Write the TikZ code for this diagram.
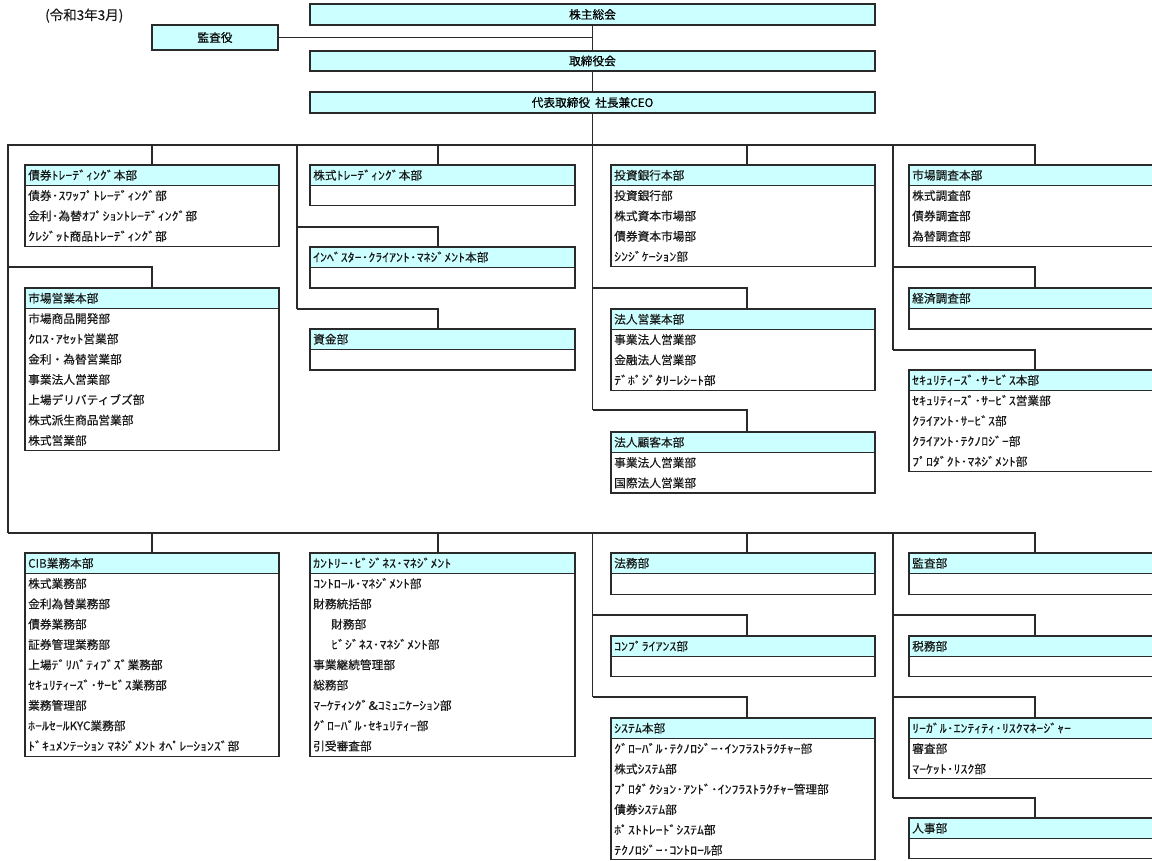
\documentclass[tikz,border=0pt]{standalone}
\usepackage{fontspec}
\usepackage{graphicx}
\setmainfont{Noto Sans CJK JP}[FakeBold=0.35]
% half-width katakana runs drawn a little wider, as in the reference
\newcommand\hk[1]{\scalebox{1.18}[1]{#1}}
\definecolor{hdrc}{HTML}{CCFFFF}
\definecolor{linec}{HTML}{2A2A2A}
\newcommand\fs{\fontsize{11.7}{14}\selectfont}
\tikzset{
  conn/.style={draw=linec, line width=1.4pt},
  hdr/.style={draw=linec, fill=hdrc, line width=1.3pt, inner sep=0pt, outer sep=0pt, anchor=north west, rectangle, font=\fs},
  bodyb/.style={draw=linec, fill=white, line width=1.3pt, inner sep=0pt, outer sep=0pt, anchor=north west, rectangle},
  lbl/.style={inner sep=0pt, anchor=base west, font=\fs, text=black!90},
}
% name, x, top, width, body height, header text
\newcommand\obox[6]{%
  \node[hdr, minimum width=#4pt, minimum height=20.5pt] (#1) at (#2,#3) {};
  \node[lbl] (#1-t) at ([xshift=3pt, yshift=-4.4pt]#1.west) {#6};
  \node[bodyb, minimum width=#4pt, minimum height=#5pt] (#1-b) at (#1.south west) {};
}
% name, items
\newcommand\items[2]{%
  \foreach \t [count=\i] in {#2} {
    \pgfmathsetmacro\yy{(\i-0.5)*20.3+4.4}
    \node[lbl] (#1-\i) at ([xshift=3pt, yshift=-\yy pt]#1-b.north west) {\t};
  }
}
\newcommand\drop[3]{%
  \coordinate (d-#3) at (#1,#2);
  \draw[conn] (d-#3) -- (d-#3 |- #3.north);
}
\newcommand\branch[4]{%
  \coordinate (b-#4) at (#1,#2);
  \coordinate (e-#4) at (#3,#2);
  \draw[conn] (b-#4) -- (e-#4) -- (e-#4 |- #4.north);
}
\begin{document}
\begin{tikzpicture}[x=1pt, y=-1pt]
\useasboundingbox (0,0) rectangle (1152,860);
\fill[white] (0,0) rectangle (1152,860);
\clip (0,0) rectangle (1152,860);

% top part
\node[lbl, font=\fontsize{13.5}{16}\selectfont] (date) at (45,20) {(令和3年3月)};
\node[hdr, minimum width=565pt, minimum height=21pt] (shu) at (310,4) {株主総会};
\node[hdr, minimum width=126pt, minimum height=25pt] (kansa) at (152,25) {監査役};
\node[hdr, minimum width=565pt, minimum height=20pt] (tori) at (310,51) {取締役会};
\node[hdr, minimum width=565pt, minimum height=21pt] (ceo) at (310,92) {代表取締役\hspace{5pt}社長兼CEO};

% upper boxes
\obox{bond}{25}{165}{254}{60.9}{債券\hk{ﾄﾚｰﾃﾞｨﾝｸﾞ}本部}
\items{bond}{債券\hk{･ｽﾜｯﾌﾟﾄﾚｰﾃﾞｨﾝｸﾞ}部, 金利\hk{･}為替\hk{ｵﾌﾟｼｮﾝﾄﾚｰﾃﾞｨﾝｸﾞ}部, \hk{ｸﾚｼﾞｯﾄ}商品\hk{ﾄﾚｰﾃﾞｨﾝｸﾞ}部}
\obox{meig}{25}{288}{254}{142.1}{市場営業本部}
\items{meig}{市場商品開発部, \hk{ｸﾛｽ･ｱｾｯﾄ}営業部, 金利・為替営業部, 事業法人営業部, 上場デリバティブズ部, 株式派生商品営業部, 株式営業部}

\obox{kabu}{310}{165}{265}{20}{株式\hk{ﾄﾚｰﾃﾞｨﾝｸﾞ}本部}
\obox{inv}{310}{247}{265}{20.5}{\hk{ｲﾝﾍﾞｽﾀｰ･ｸﾗｲｱﾝﾄ･ﾏﾈｼﾞﾒﾝﾄ}本部}
\obox{shikin}{310}{329}{265}{20.5}{資金部}

\obox{ib}{611}{165}{264}{81.2}{投資銀行本部}
\items{ib}{投資銀行部, 株式資本市場部, 債券資本市場部, \hk{ｼﾝｼﾞｹｰｼｮﾝ}部}
\obox{hoei}{611}{309}{264}{60.9}{法人営業本部}
\items{hoei}{事業法人営業部, 金融法人営業部, \hk{ﾃﾞﾎﾟｼﾞﾀﾘｰﾚｼｰﾄ}部}
\obox{hoko}{611}{432}{264}{40.6}{法人顧客本部}
\items{hoko}{事業法人営業部, 国際法人営業部}

\obox{mcho}{909}{165}{252}{60.9}{市場調査本部}
\items{mcho}{株式調査部, 債券調査部, 為替調査部}
\obox{keizai}{909}{288}{252}{20.5}{経済調査部}
\obox{sec}{909}{370}{252}{81.2}{\hk{ｾｷｭﾘﾃｨｰｽﾞ･ｻｰﾋﾞｽ}本部}
\items{sec}{\hk{ｾｷｭﾘﾃｨｰｽﾞ･ｻｰﾋﾞｽ}営業部, \hk{ｸﾗｲｱﾝﾄ･ｻｰﾋﾞｽ}部, \hk{ｸﾗｲｱﾝﾄ･ﾃｸﾉﾛｼﾞｰ}部, \hk{ﾌﾟﾛﾀﾞｸﾄ･ﾏﾈｼﾞﾒﾝﾄ}部}

% lower boxes
\obox{cib}{25}{553}{254}{182.7}{CIB業務本部}
\items{cib}{株式業務部, 金利為替業務部, 債券業務部, 証券管理業務部, 上場\hk{ﾃﾞﾘﾊﾞﾃｨﾌﾞｽﾞ}業務部, \hk{ｾｷｭﾘﾃｨｰｽﾞ･ｻｰﾋﾞｽ}業務部, 業務管理部, \hk{ﾎｰﾙｾｰﾙ}KYC業務部, \hk{ﾄﾞｷｭﾒﾝﾃｰｼｮﾝ ﾏﾈｼﾞﾒﾝﾄ ｵﾍﾟﾚｰｼｮﾝｽﾞ}部}
\obox{cbm}{310}{553}{265}{182.7}{\hk{ｶﾝﾄﾘｰ･ﾋﾞｼﾞﾈｽ･ﾏﾈｼﾞﾒﾝﾄ}}
\items{cbm}{\hk{ｺﾝﾄﾛｰﾙ･ﾏﾈｼﾞﾒﾝﾄ}部, 財務統括部, \hspace*{18pt}財務部, \hspace*{18pt}\hk{ﾋﾞｼﾞﾈｽ･ﾏﾈｼﾞﾒﾝﾄ}部, 事業継続管理部, 総務部, \hk{ﾏｰｹﾃｨﾝｸﾞ\&ｺﾐｭﾆｹｰｼｮﾝ}部, \hk{ｸﾞﾛｰﾊﾞﾙ･ｾｷｭﾘﾃｨｰ}部, 引受審査部}

\obox{homu}{611}{553}{264}{21}{法務部}
\obox{comp}{611}{636}{264}{20}{\hk{ｺﾝﾌﾟﾗｲｱﾝｽ}部}
\obox{sys}{611}{718}{264}{121.2}{\hk{ｼｽﾃﾑ}本部}
\items{sys}{\hk{ｸﾞﾛｰﾊﾞﾙ･ﾃｸﾉﾛｼﾞｰ･ｲﾝﾌﾗｽﾄﾗｸﾁｬｰ}部, 株式\hk{ｼｽﾃﾑ}部, \hk{ﾌﾟﾛﾀﾞｸｼｮﾝ･ｱﾝﾄﾞ･ｲﾝﾌﾗｽﾄﾗｸﾁｬｰ}管理部, 債券\hk{ｼｽﾃﾑ}部, \hk{ﾎﾟｽﾄﾄﾚｰﾄﾞｼｽﾃﾑ}部, \hk{ﾃｸﾉﾛｼﾞｰ･ｺﾝﾄﾛｰﾙ}部}

\obox{kansabu}{909}{553}{252}{21}{監査部}
\obox{zeimu}{909}{636}{252}{20}{税務部}
\obox{legal}{909}{718}{252}{40}{\hk{ﾘｰｶﾞﾙ･ｴﾝﾃｨﾃｨ･ﾘｽｸﾏﾈｰｼﾞｬｰ}}
\items{legal}{審査部, \hk{ﾏｰｹｯﾄ･ﾘｽｸ}部}
\obox{jinji}{909}{818}{252}{20}{人事部}

% connectors: top
\draw[conn] (shu.south) -- (tori.north);
\draw[conn] (kansa.east) -- (kansa.east -| shu.south);
\draw[conn] (tori.south) -- (ceo.north);
\coordinate (c3e) at (592.5,410);
\draw[conn] (ceo.south) -- (c3e);

\coordinate (lb) at (8,533);
\coordinate (lt) at (8,145);
\coordinate (rt) at (1035,145);
\coordinate (rb) at (1035,533);
\draw[conn] (lb) -- (lt) -- (rt) -- (rt |- mcho.north);
\draw[conn] (lb) -- (rb) -- (rb |- kansabu.north);

% upper column 1
\drop{152}{145}{bond}
\branch{8}{267}{152}{meig}
% upper column 2
\coordinate (v2t) at (297,145);
\coordinate (v2b) at (297,309);
\draw[conn] (v2t) -- (v2b);
\drop{438}{145}{kabu}
\branch{297}{227}{438}{inv}
\branch{297}{309}{438}{shikin}
% upper column 3
\drop{747}{145}{ib}
\branch{592.5}{288}{747}{hoei}
\branch{592.5}{410}{747}{hoko}
% upper column 4
\coordinate (v4t) at (893,145);
\coordinate (v4b) at (893,350);
\draw[conn] (v4t) -- (v4b);
\branch{893}{267}{1035}{keizai}
\branch{893}{350}{1035}{sec}

% lower column 1, 2
\drop{152}{533}{cib}
\drop{438}{533}{cbm}
% lower column 3
\coordinate (w3t) at (592.5,533);
\coordinate (w3b) at (592.5,697);
\draw[conn] (w3t) -- (w3b);
\drop{747}{533}{homu}
\branch{592.5}{615}{747}{comp}
\branch{592.5}{697}{747}{sys}
% lower column 4
\coordinate (w4t) at (893,533);
\coordinate (w4b) at (893,798);
\draw[conn] (w4t) -- (w4b);
\branch{893}{615}{1035}{zeimu}
\branch{893}{697}{1035}{legal}
\branch{893}{798}{1035}{jinji}
\end{tikzpicture}
\end{document}
